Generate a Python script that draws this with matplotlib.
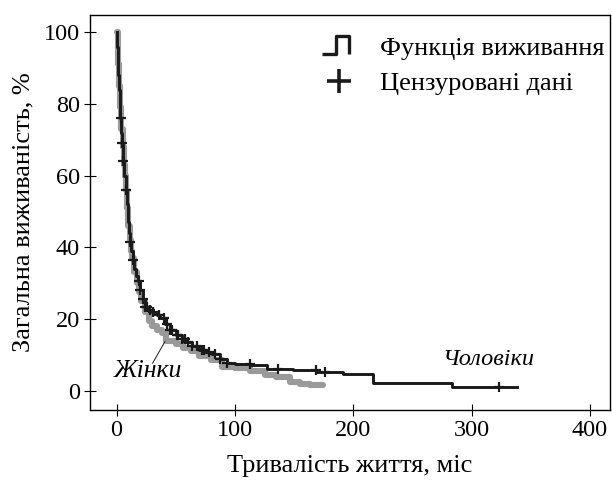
import numpy as np
import matplotlib.pyplot as plt
from matplotlib.lines import Line2D
from matplotlib.path import Path

plt.rcParams['font.family'] = ['Liberation Serif', 'DejaVu Serif']

# Survival data, men (black) - step function, time in months, survival %
men_t = [0, 0.5, 1, 1.5, 2, 2.5, 3, 3.5, 4.5, 5.3, 6.5, 7.6, 8.5, 9.5, 10.3, 11,
         12.5, 13.8, 15, 16.5, 18, 20, 22, 24, 27, 30, 34, 37, 41, 45, 50, 55,
         59, 64, 70, 75, 81, 87, 93, 100, 113, 127, 149, 169, 191, 217, 283, 338]
men_s = [100, 96, 92, 88, 84, 80, 76, 72, 69, 64, 60, 56, 52, 47, 44, 41.5,
         39, 36.5, 34, 32, 30.5, 28, 25.5, 23.4, 22.5, 22, 21, 20.3, 18.5, 17, 15.5, 14.5,
         13.7, 12.5, 11.4, 10.8, 10.2, 9, 7.8, 7.5, 7.2, 6, 5.8, 5.3, 4.8, 2.1, 1.1, 1.1]

# Women (gray)
women_t = [0, 1, 2, 3, 4, 5, 6, 7, 8, 9, 10, 11, 12, 13, 15, 17, 19, 21, 24, 27,
           30, 34, 38, 42, 50, 56, 63, 70, 80, 89, 100, 113, 125, 135, 146.5, 155,
           163, 174.7]
women_s = [100, 91, 85, 79, 73, 68, 63, 60, 56, 51, 46, 42, 39, 37, 33, 30, 27.5,
           25, 22, 19.5, 18, 17, 16, 14, 13, 12, 11, 9.8, 8.5, 6.7, 6.3, 5.5, 4.4,
           3.8, 2.5, 2.0, 1.6, 1.5]

# Censored observations (men)
cens_t = [3.4, 4.5, 5.3, 7.6, 11, 13.8, 19, 20, 22.5, 24, 25.4, 28, 31, 36, 40, 43,
          45, 47, 50.7, 52, 55, 58, 60.5, 64, 67.6, 71.8, 74, 78, 83, 87, 93,
          112.7, 136, 168.5, 176, 323]


def step_value(t, ts, ss):
    i = np.searchsorted(ts, t, side='right') - 1
    return np.asarray(ss)[i]


cens_s = [step_value(t, men_t, men_s) for t in cens_t]

fig = plt.figure(figsize=(6.12, 4.82), dpi=100)
ax = fig.add_axes([0.147, 0.149, 0.85, 0.82])

ax.plot(women_t, women_s, drawstyle='steps-post', color='#9a9a9a', lw=4.4,
        solid_capstyle='round', solid_joinstyle='round')
ax.plot(men_t, men_s, drawstyle='steps-post', color='#1a1a1a', lw=2.1)
ax.plot(cens_t, cens_s, ls='none', marker='+', color='#1a1a1a', ms=6.5, mew=1.6)

# labels on the curves
ax.text(26.6, 5.5, 'Жінки', style='italic', fontsize=18.5, ha='center', va='center')
ax.plot([30.4, 40.8], [7.7, 13.7], color='#1a1a1a', lw=0.7)
ax.text(314, 8.6, 'Чоловіки', style='italic', fontsize=17.5, ha='center', va='center')

ax.set_xlim(-22.5, 417)
ax.set_ylim(-5.4, 104.8)
ax.set_xticks([0, 100, 200, 300, 400])
ax.set_yticks([0, 20, 40, 60, 80, 100])
ax.tick_params(direction='inout', length=8.5, width=0.8, labelsize=17.5, pad=3)
for sp in ax.spines.values():
    sp.set_linewidth(1.0)

ax.set_xlabel('Тривалість життя, міс', fontsize=19, labelpad=10)
ax.set_ylabel('Загальна виживаність, %', fontsize=19, labelpad=7)

# legend with a step-shaped symbol
step_path = Path([(-1.0, -0.5), (-0.2, -0.5), (-0.2, 0.5), (0.6, 0.5), (0.6, -0.5)])
h1 = Line2D([], [], ls='none', marker=step_path, ms=25, mfc='none', mec='#1a1a1a', mew=2.4)
h2 = Line2D([], [], ls='none', marker='+', ms=17, mec='#1a1a1a', mew=2.6)
ax.legend([h1, h2], ['Функція виживання', 'Цензуровані дані'], loc='upper right',
          bbox_to_anchor=(1.029, 1.0), frameon=False, fontsize=19, handlelength=1.3,
          handletextpad=0.9, labelspacing=0.47, borderaxespad=0.4)

fig.savefig('out.png', dpi=100)
